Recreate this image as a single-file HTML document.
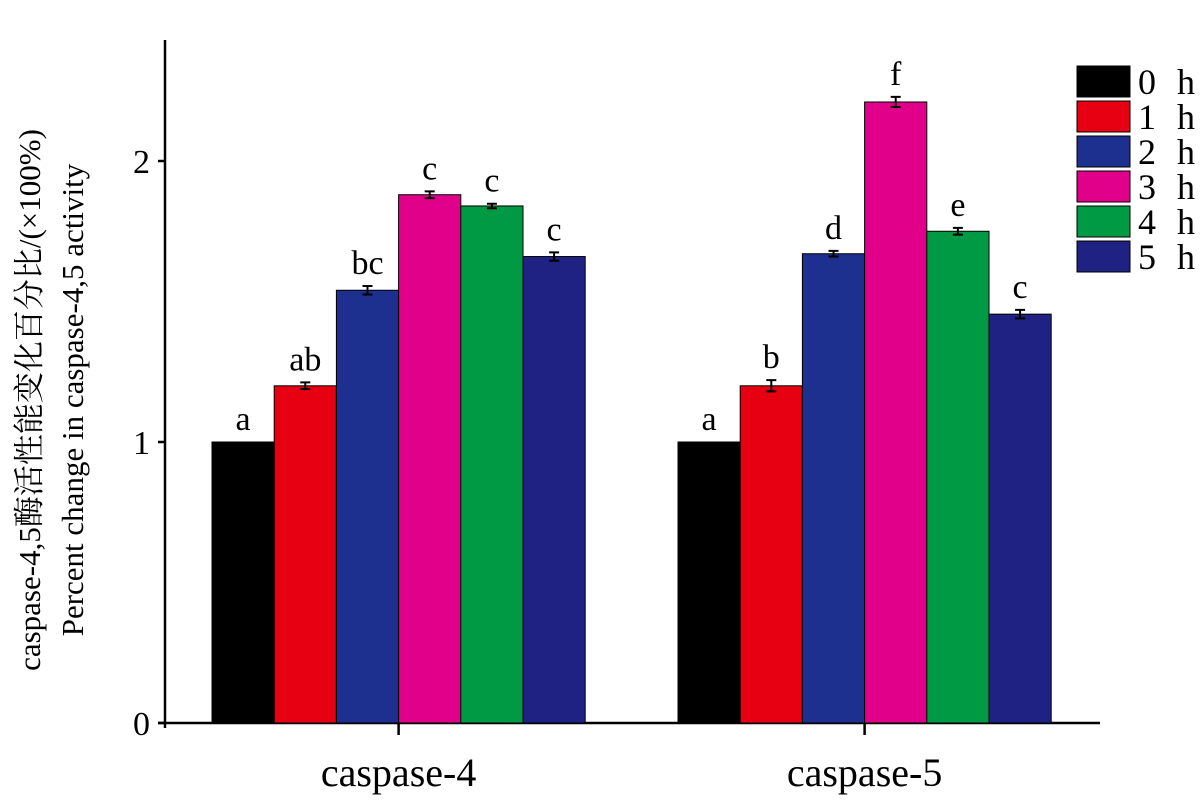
<!DOCTYPE html>
<html><head><meta charset="utf-8"><style>
body{margin:0;background:#fff;}
svg text{font-family:"Liberation Serif","Noto Serif CJK SC",serif;fill:#000;}
</style></head><body>
<svg id="chart" width="1200" height="805" viewBox="0 0 1200 805" xmlns="http://www.w3.org/2000/svg"></svg>
<script>
const categories=["caspase-4","caspase-5"];
const seriesNames=["0 h","1 h","2 h","3 h","4 h","5 h"];
const colors=["#000000","#e60012","#1d2f8f","#e0008a","#009944","#1f2183"];
const values=[[1.0,1.2,1.54,1.88,1.84,1.66],[1.0,1.2,1.67,2.21,1.75,1.455]];
const errors=[[0,0.012,0.015,0.012,0.008,0.015],[0,0.02,0.01,0.018,0.012,0.015]];
const letters=[["a","ab","bc","c","c","c"],["a","b","d","f","e","c"]];
const yTicks=[0,1,2];
const NS="http://www.w3.org/2000/svg";
const svg=document.getElementById('chart');
function el(t,a,p){const e=document.createElementNS(NS,t);for(const k in a)e.setAttribute(k,a[k]);(p||svg).appendChild(e);return e;}
const y0=723,pxPerUnit=281;
const y=v=>y0-v*pxPerUnit;
const groupStart=[212,678],barW=62.2;
const x=(g,i)=>groupStart[g]+i*barW;
// axes
let a=el('line',{x1:165,y1:40,x2:165,y2:728,stroke:'#000','stroke-width':2.5});

a=el('line',{x1:158,y1:723,x2:1100,y2:723,stroke:'#000','stroke-width':2.5});

yTicks.forEach(t=>{
 const tk=el('line',{x1:158,y1:y(t),x2:165,y2:y(t),stroke:'#000','stroke-width':2.5});
 
 const tl=el('text',{x:150,y:y(t)+12,'font-size':34,'text-anchor':'end'});tl.textContent=t;
 
});
categories.forEach((c,g)=>{
 const cx=x(g,3);
 const tk=el('line',{x1:cx,y1:723,x2:cx,y2:735,stroke:'#000','stroke-width':2.5});
 
 const tl=el('text',{x:cx,y:786,'font-size':40,'text-anchor':'middle'});tl.textContent=c;
 
 values[g].forEach((v,i)=>{
  const r=el('rect',{x:x(g,i),y:y(v),width:barW,height:y0-y(v),fill:colors[i],stroke:'#000','stroke-width':1});
  
  const bx=x(g,i)+barW/2,e=errors[g][i];
  if(e>0){
   const eb=el('path',{d:`M${bx} ${y(v+e)}V${y(v-e)}M${bx-5} ${y(v+e)}H${bx+5}M${bx-5} ${y(v-e)}H${bx+5}`,stroke:'#000','stroke-width':2,fill:'none'});
   
  }
  const lt=el('text',{x:bx,y:y(v+e)-12,'font-size':34,'text-anchor':'middle'});lt.textContent=letters[g][i];
  
 });
});
// legend
seriesNames.forEach((n,i)=>{
 const sw=el('rect',{x:1077,y:66+i*35,width:53,height:31,fill:colors[i],stroke:'#000','stroke-width':1});
 
 const t=el('text',{x:1138,y:94+i*35,'font-size':36,'letter-spacing':'6'});t.textContent=n.replace(' ','\u00a0');
 
});
// y titles
let t1=el('text',{transform:'translate(40,400) rotate(-90)','font-size':31,'text-anchor':'middle'});
t1.textContent='caspase-4,5酶活性能变化百分比/(×100%)';

let t2=el('text',{transform:'translate(83,400) rotate(-90)','font-size':31,'text-anchor':'middle'});
t2.textContent='Percent change in caspase-4,5 activity';

</script>
</body></html>
